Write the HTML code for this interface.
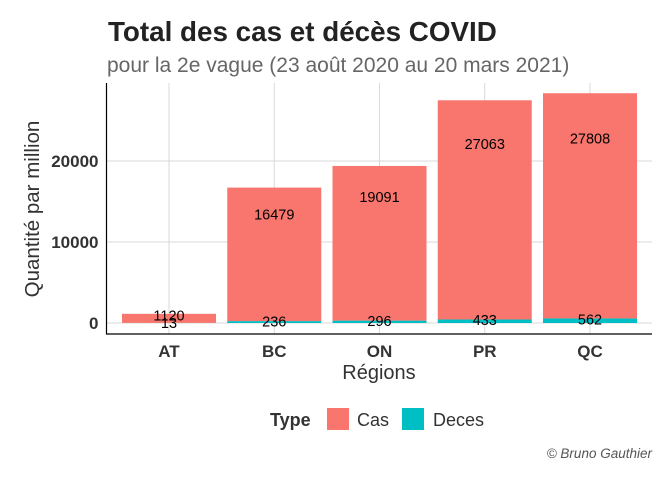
<!DOCTYPE html><html><head><meta charset="utf-8"><style>body{margin:0;background:#fff}svg{font-family:"Liberation Sans",sans-serif}</style></head><body>
<svg width="672" height="480">
<g id="plot"></g>
<text x="108" y="41" font-size="27.8" font-weight="bold" fill="#222">Total des cas et décès COVID</text>
<text x="107" y="72" font-size="21" fill="#666">pour la 2e vague (23 août 2020 au 20 mars 2021)</text>
<text x="379" y="379" font-size="20" fill="#333" text-anchor="middle">Régions</text>
<text transform="translate(39,209) rotate(-90)" font-size="20.5" fill="#333" text-anchor="middle">Quantité par million</text>
<g>
<text x="270" y="426" font-size="18" font-weight="bold" fill="#333">Type</text>
<rect x="327" y="408" width="22" height="22" fill="#F8766D"/>
<text x="357" y="426" font-size="18" fill="#333">Cas</text>
<rect x="402" y="408" width="22" height="22" fill="#00BFC4"/>
<text x="433" y="426" font-size="18" fill="#333">Deces</text>
</g>
<text x="652" y="458" font-size="13.5" font-style="italic" fill="#555" text-anchor="end">© Bruno Gauthier</text>
</svg>
<script>
const categories=["AT","BC","ON","PR","QC"];
const cas=[1120,16479,19091,27063,27808];
const deces=[13,236,296,433,562];
const yTicks=[0,10000,20000];
const NS="http://www.w3.org/2000/svg";
const g=document.getElementById('plot');
const L=106.5,R=652,T=83,B=334;
const y=v=>323-v*0.0081;
const x=i=>169+i*105.25;
const bw=94;
function mk(t,a,p){const e=document.createElementNS(NS,t);for(const k in a)e.setAttribute(k,a[k]);(p||g).appendChild(e);return e;}
yTicks.forEach(t=>{const l=mk('line',{x1:L,x2:R,y1:y(t),y2:y(t),stroke:'#d9d9d9'});


const tx=mk('text',{x:L-8,y:y(t)+6,'font-size':17,'font-weight':'bold',fill:'#333','text-anchor':'end'});tx.textContent=t;

});
categories.forEach((c,i)=>{const l=mk('line',{x1:x(i),x2:x(i),y1:T,y2:B,stroke:'#d9d9d9'});

});
categories.forEach((c,i)=>{
const d=mk('rect',{x:x(i)-bw/2,y:y(deces[i]),width:bw,height:y(0)-y(deces[i]),fill:'#00BFC4'});


const tot=deces[i]+cas[i];
const r=mk('rect',{x:x(i)-bw/2,y:y(tot),width:bw,height:y(deces[i])-y(tot),fill:'#F8766D'});


const t1=mk('text',{x:x(i),y:y(deces[i]+0.8*cas[i])+5,'font-size':14.5,'text-anchor':'middle',fill:'#000'});t1.textContent=cas[i];


const t2=mk('text',{x:x(i),y:y(0.8*deces[i])+5,'font-size':14.5,'text-anchor':'middle',fill:'#000'});t2.textContent=deces[i];


const xt=mk('text',{x:x(i),y:B+23,'font-size':17,'font-weight':'bold',fill:'#333','text-anchor':'middle'});xt.textContent=c;


});
const ax=mk('path',{d:`M${L},${T}V${B}H${R}`,stroke:'#000','stroke-width':1.2,fill:'none'});


</script></body></html>
